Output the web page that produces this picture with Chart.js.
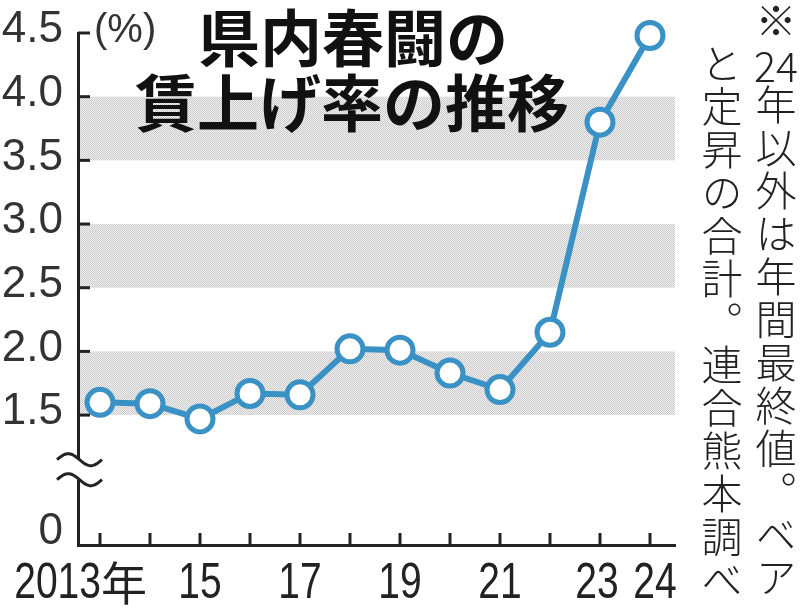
<!DOCTYPE html>
<html>
<head>
<meta charset="utf-8">
<script src="https://cdn.jsdelivr.net/npm/chart.js@4"></script>
<style>
    html, body { margin: 0; padding: 0; background: #fff; }
    #wrap { position: relative; width: 800px; height: 613px; overflow: hidden; }
    #chart { position: absolute; left: 0; top: 0; }
    .note {
        position: absolute;
        writing-mode: vertical-rl;
        font-family: "Noto Sans CJK JP", sans-serif;
        font-weight: 300;
        font-size: 41px;
        line-height: 41px;
        letter-spacing: 2px;
        color: #222;
        white-space: nowrap;
    }
    .tcy { text-combine-upright: all; letter-spacing: 0; }
</style>
</head>
<body>
<div id="wrap">
    <canvas id="chart" width="800" height="613"></canvas>
    <div class="note" style="left:755px; top:0px;">※<span class="tcy">24</span>年以外は年間最終値。ベア</div>
    <div class="note" style="left:701px; top:43px;">と定昇の合計。連合熊本調べ</div>
</div>
<script>
// data
const years = [2013, 2014, 2015, 2016, 2017, 2018, 2019, 2020, 2021, 2022, 2023, 2024];
const rates = [1.60, 1.59, 1.47, 1.67, 1.66, 2.02, 2.01, 1.83, 1.70, 2.15, 3.80, 4.48];
const yTickValues = [1.5, 2.0, 2.5, 3.0, 3.5, 4.0, 4.5];
const shadedBands = [[1.5, 2.0], [2.5, 3.0], [3.5, 4.0]];
const xLabelYears = [2013, 2015, 2017, 2019, 2021, 2023, 2024];
const xLabels = ['2013', '15', '17', '19', '21', '23', '24'];
const firstLabelSuffix = '年';
const titleLines = ['県内春闘の', '賃上げ率の推移'];
const unitLabel = '(%)';

const BLUE = '#3a91c5';
const INK = '#222';
const yAxisBottom = 0.48;   // broken axis: bottom is labelled 0
const zeroLabelAt = 0.56;   // where the "0" of the broken axis sits

// dotted grey fill for the bands
function makePattern(ctx) {
    const c = document.createElement('canvas');
    c.width = 2; c.height = 2;
    const p = c.getContext('2d');
    p.fillStyle = '#f3f3f3';
    p.fillRect(0, 0, 2, 2);
    p.fillStyle = '#c8c8c8';
    p.fillRect(0, 0, 1, 1);
    p.fillRect(1, 1, 1, 1);
    return ctx.createPattern(c, 'repeat');
}

const bandsPlugin = {
    id: 'bands',
    beforeDatasetsDraw(chart) {
        const { ctx, chartArea, scales: { y } } = chart;
        ctx.save();
        ctx.fillStyle = makePattern(ctx);
        shadedBands.forEach(b => {
            const top = y.getPixelForValue(b[1]);
            const bot = y.getPixelForValue(b[0]);
            ctx.fillRect(chartArea.left + 2, top, chartArea.right - chartArea.left - 2, bot - top);
        });
        ctx.restore();
    }
};

const decoPlugin = {
    id: 'deco',
    afterDraw(chart) {
        const { ctx, chartArea, scales: { x, y } } = chart;
        ctx.save();
        ctx.strokeStyle = INK;
        ctx.lineWidth = 3;

        // tick marks pointing into the plot
        yTickValues.forEach(v => {
            const py = y.getPixelForValue(v);
            ctx.beginPath();
            ctx.moveTo(chartArea.left, py);
            ctx.lineTo(chartArea.left + 12, py);
            ctx.stroke();
        });
        years.forEach(yr => {
            const px = x.getPixelForValue(yr);
            ctx.beginPath();
            ctx.moveTo(px, chartArea.bottom);
            ctx.lineTo(px, chartArea.bottom - 12);
            ctx.stroke();
        });

        // axis break
        const bTop = y.getPixelForValue(1.15);
        const bBot = bTop + 20;
        ctx.fillStyle = '#fff';
        ctx.fillRect(chartArea.left - 6, bTop, 12, bBot - bTop);
        [bTop, bBot].forEach(cy => {
            ctx.beginPath();
            for (let i = 0; i <= 30; i++) {
                const t = i / 30;
                const px = chartArea.left - 21 + 45 * t;
                const py = cy - 6 * Math.sin(2 * Math.PI * t);
                if (i === 0) ctx.moveTo(px, py); else ctx.lineTo(px, py);
            }
            ctx.stroke();
        });

        // x labels, condensed digits
        ctx.fillStyle = INK;
        ctx.textBaseline = 'alphabetic';
        const sx = 0.78;
        xLabels.forEach((lab, i) => {
            let px = x.getPixelForValue(xLabelYears[i]);
            if (lab === '23') px -= 3;
            if (lab === '24') px += 5;
            ctx.save();
            ctx.font = '50px "Liberation Sans"';
            ctx.scale(sx, 1);
            if (i === 0) {
                ctx.textAlign = 'right';
                ctx.fillText(lab, (px + 1) / sx, 598);
            } else {
                ctx.textAlign = 'center';
                ctx.fillText(lab, px / sx, 598);
            }
            ctx.restore();
            if (i === 0) {
                ctx.font = '46px "Noto Sans CJK JP"';
                ctx.textAlign = 'left';
                ctx.fillText(firstLabelSuffix, px + 1, 600);
            }
        });

        // unit
        ctx.fillStyle = '#333';
        ctx.textAlign = 'left';
        ctx.textBaseline = 'middle';
        ctx.font = '40px "Liberation Sans"';
        ctx.fillText(unitLabel, chartArea.left + 16, y.getPixelForValue(4.5) - 2);

        // title
        ctx.fillStyle = '#111';
        ctx.textAlign = 'center';
        ctx.font = 'bold 62px "Noto Sans CJK JP"';
        ctx.fillText(titleLines[0], 353, 38);
        ctx.fillText(titleLines[1], 352, 103);
        ctx.restore();
    }
};

const ctx = document.getElementById('chart').getContext('2d');
new Chart(ctx, {
    type: 'line',
    data: {
        datasets: [{
            data: years.map((yr, i) => ({ x: yr, y: rates[i] })),
            borderColor: BLUE,
            borderWidth: 6,
            pointRadius: 13,
            pointBorderWidth: 5,
            pointBackgroundColor: '#fff',
            pointBorderColor: BLUE,
            tension: 0,
            clip: false
        }]
    },
    options: {
        responsive: false,
        animation: false,
        events: [],
        layout: { padding: { top: 33, right: 125, left: 0, bottom: 0 } },
        plugins: { legend: { display: false }, tooltip: { enabled: false } },
        scales: {
            x: {
                type: 'linear',
                min: 2012.56,
                max: 2024.5,
                grid: { display: false, drawTicks: false },
                border: { display: true, color: INK, width: 3 },
                ticks: { display: false },
                afterFit(s) {
                    s.height = 68;
                    s.paddingLeft = 0; s.paddingRight = 0;
                }
            },
            y: {
                min: yAxisBottom,
                max: 4.5,
                grid: { display: false, drawTicks: false },
                border: { display: true, color: INK, width: 3 },
                afterBuildTicks(s) {
                    s.ticks = [zeroLabelAt, ...yTickValues].map(v => ({ value: v }));
                },
                ticks: {
                    font: { family: '"Liberation Sans"', size: 44 },
                    color: '#333',
                    padding: 15,
                    labelOffset: -3,
                    callback: v => v === zeroLabelAt ? '0' : v.toFixed(1)
                },
                afterFit(s) {
                    s.width = 78;
                    s.paddingTop = 0; s.paddingBottom = 0;
                }
            }
        }
    },
    plugins: [bandsPlugin, decoPlugin]
});
</script>
</body>
</html>
